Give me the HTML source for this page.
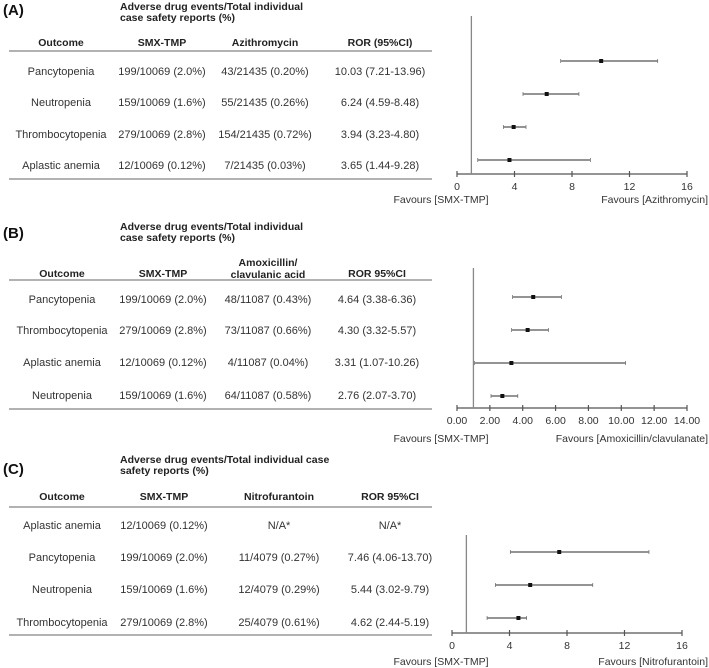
<!DOCTYPE html>
<html><head><meta charset="utf-8"><style>
body{margin:0;background:#fff;}
svg{display:block;font-family:"Liberation Sans",Arial,sans-serif;}
.t{font-size:11px;fill:#333;text-anchor:middle;}
.h{font-size:10.5px;font-weight:bold;fill:#222;text-anchor:middle;}
.hl{font-size:10.5px;font-weight:bold;fill:#222;}
.p{font-size:15px;font-weight:bold;fill:#111;}
.tk{font-size:10.5px;fill:#333;text-anchor:middle;}
</style></head><body>
<svg id="s" width="709" height="668"></svg>
<script>
// Panel A data
const catsA=["Pancytopenia","Neutropenia","Thrombocytopenia","Aplastic anemia"];
const rorA=[10.03,6.24,3.94,3.65];
const loA=[7.21,4.59,3.23,1.44];
const hiA=[13.96,8.48,4.80,9.28];
const col2A=["199/10069 (2.0%)","159/10069 (1.6%)","279/10069 (2.8%)","12/10069 (0.12%)"];
const col3A=["43/21435 (0.20%)","55/21435 (0.26%)","154/21435 (0.72%)","7/21435 (0.03%)"];
const col4A=["10.03 (7.21-13.96)","6.24 (4.59-8.48)","3.94 (3.23-4.80)","3.65 (1.44-9.28)"];
const ticksA=[0,4,8,12,16];
const tickLabA=["0","4","8","12","16"];
// Panel B data
const catsB=["Pancytopenia","Thrombocytopenia","Aplastic anemia","Neutropenia"];
const rorB=[4.64,4.30,3.31,2.76];
const loB=[3.38,3.32,1.07,2.07];
const hiB=[6.36,5.57,10.26,3.70];
const col2B=["199/10069 (2.0%)","279/10069 (2.8%)","12/10069 (0.12%)","159/10069 (1.6%)"];
const col3B=["48/11087 (0.43%)","73/11087 (0.66%)","4/11087 (0.04%)","64/11087 (0.58%)"];
const col4B=["4.64 (3.38-6.36)","4.30 (3.32-5.57)","3.31 (1.07-10.26)","2.76 (2.07-3.70)"];
const ticksB=[0,2,4,6,8,10,12,14];
const tickLabB=["0.00","2.00","4.00","6.00","8.00","10.00","12.00","14.00"];
// Panel C data
const catsC=["Aplastic anemia","Pancytopenia","Neutropenia","Thrombocytopenia"];
const rorC=[null,7.46,5.44,4.62];
const loC=[null,4.06,3.02,2.44];
const hiC=[null,13.70,9.79,5.19];
const col2C=["12/10069 (0.12%)","199/10069 (2.0%)","159/10069 (1.6%)","279/10069 (2.8%)"];
const col3C=["N/A*","11/4079 (0.27%)","12/4079 (0.29%)","25/4079 (0.61%)"];
const col4C=["N/A*","7.46 (4.06-13.70)","5.44 (3.02-9.79)","4.62 (2.44-5.19)"];
const ticksC=[0,4,8,12,16];
const tickLabC=["0","4","8","12","16"];

const S=document.getElementById('s');
const NS="http://www.w3.org/2000/svg";
function mk(tag,at,txt){const e=document.createElementNS(NS,tag);for(const k in at)e.setAttribute(k,at[k]);if(txt!=null)e.textContent=txt;S.appendChild(e);return e;}
function line(x1,y1,x2,y2,c,w){return mk('line',{x1,y1,x2,y2,stroke:c,'stroke-width':w});}

function panel(P){
  let e=mk('text',{x:3,y:P.labY,class:'p'},P.label);
  
  
  e=mk('text',{x:P.hx,y:P.h1y,class:'hl'},P.h1);
  
  
  mk('text',{x:P.hx,y:P.h1y+11,class:'hl'},P.h2);
  P.heads.forEach((h,i)=>{
    if(Array.isArray(h)){h.forEach((s,j)=>{const t=mk('text',{x:P.cx[i],y:P.hy-11+j*12,class:'h'},s);});}
    else{const t=mk('text',{x:P.cx[i],y:P.hy,class:'h'},h);}
  });
  e=line(9,P.line1,432,P.line1,'#999',1.5);
  
  
  e=line(9,P.line2,432,P.line2,'#999',1.5);
  
  
  P.cats.forEach((c,i)=>{
    const y=P.tabY[i]+4;
    [c,P.c2[i],P.c3[i],P.c4[i]].forEach((s,j)=>{const t=mk('text',{x:P.cx[j],y,class:'t'},s);});
  });
  // forest
  const xs=v=>P.x0+(v-P.tk[0])/(P.tk[P.tk.length-1]-P.tk[0])*(P.x1-P.x0);
  e=line(P.x0,P.ay,P.x1,P.ay,'#555',1.2);
  
  
  P.tk.forEach((v,i)=>{
    line(xs(v),P.ay-3,xs(v),P.ay+3,'#555',1.2);
    const t=mk('text',{x:xs(v),y:P.ay+16,class:'tk'},P.tl[i]);
    
    
  });
  e=line(xs(1),P.vtop,xs(1),P.ay,'#888',1.3);
  
  
  P.cats.forEach((c,i)=>{
    if(P.ror[i]==null)return;
    const y=P.rowY[i];
    const l=line(xs(P.lo[i]),y,xs(P.hi[i]),y,'#555',1.2);
    
    
    line(xs(P.lo[i]),y-2,xs(P.lo[i]),y+2,'#777',0.8);
    line(xs(P.hi[i]),y-2,xs(P.hi[i]),y+2,'#777',0.8);
    const d=mk('rect',{x:xs(P.ror[i])-2,y:y-2,width:4,height:4,fill:'#111'});
    
    
  });
  e=mk('text',{x:441,y:P.favY,class:'tk'},'Favours [SMX-TMP]');
  
  
  e=mk('text',{x:708,y:P.favY,class:'tk',style:'text-anchor:end'},P.fav);
  
  
}
panel({label:'(A)',labY:15,hx:120,h1:'Adverse drug events/Total individual',h1y:10,h2:'case safety reports (%)',
  heads:['Outcome','SMX-TMP','Azithromycin','ROR (95%CI)'],hy:46,cx:[61,162,265,380],line1:51,line2:179,
  cats:catsA,tabY:[71,102,134,165],rowY:[61,94,127,160],c2:col2A,c3:col3A,c4:col4A,ror:rorA,lo:loA,hi:hiA,tk:ticksA,tl:tickLabA,
  x0:457,x1:687,ay:174,vtop:16,favY:203,fav:'Favours [Azithromycin]'});
panel({label:'(B)',labY:238,hx:120,h1:'Adverse drug events/Total individual',h1y:230,h2:'case safety reports (%)',
  heads:['Outcome','SMX-TMP',['Amoxicillin/','clavulanic acid'],'ROR 95%CI'],hy:277,cx:[62,163,268,377],line1:280,line2:409,
  cats:catsB,tabY:[299,330,362,395],rowY:[297,330,363,396],c2:col2B,c3:col3B,c4:col4B,ror:rorB,lo:loB,hi:hiB,tk:ticksB,tl:tickLabB,
  x0:457,x1:687,ay:408,vtop:268,favY:442,fav:'Favours [Amoxicillin/clavulanate]'});
panel({label:'(C)',labY:474,hx:120,h1:'Adverse drug events/Total individual case',h1y:463,h2:'safety reports (%)',
  heads:['Outcome','SMX-TMP','Nitrofurantoin','ROR 95%CI'],hy:500,cx:[62,164,279,390],line1:507,line2:635,
  cats:catsC,tabY:[525,557,589,622],rowY:[null,552,585,618],c2:col2C,c3:col3C,c4:col4C,ror:rorC,lo:loC,hi:hiC,tk:ticksC,tl:tickLabC,
  x0:452,x1:682,ay:633,vtop:535,favY:665,fav:'Favours [Nitrofurantoin]'});
</script>
</body></html>
